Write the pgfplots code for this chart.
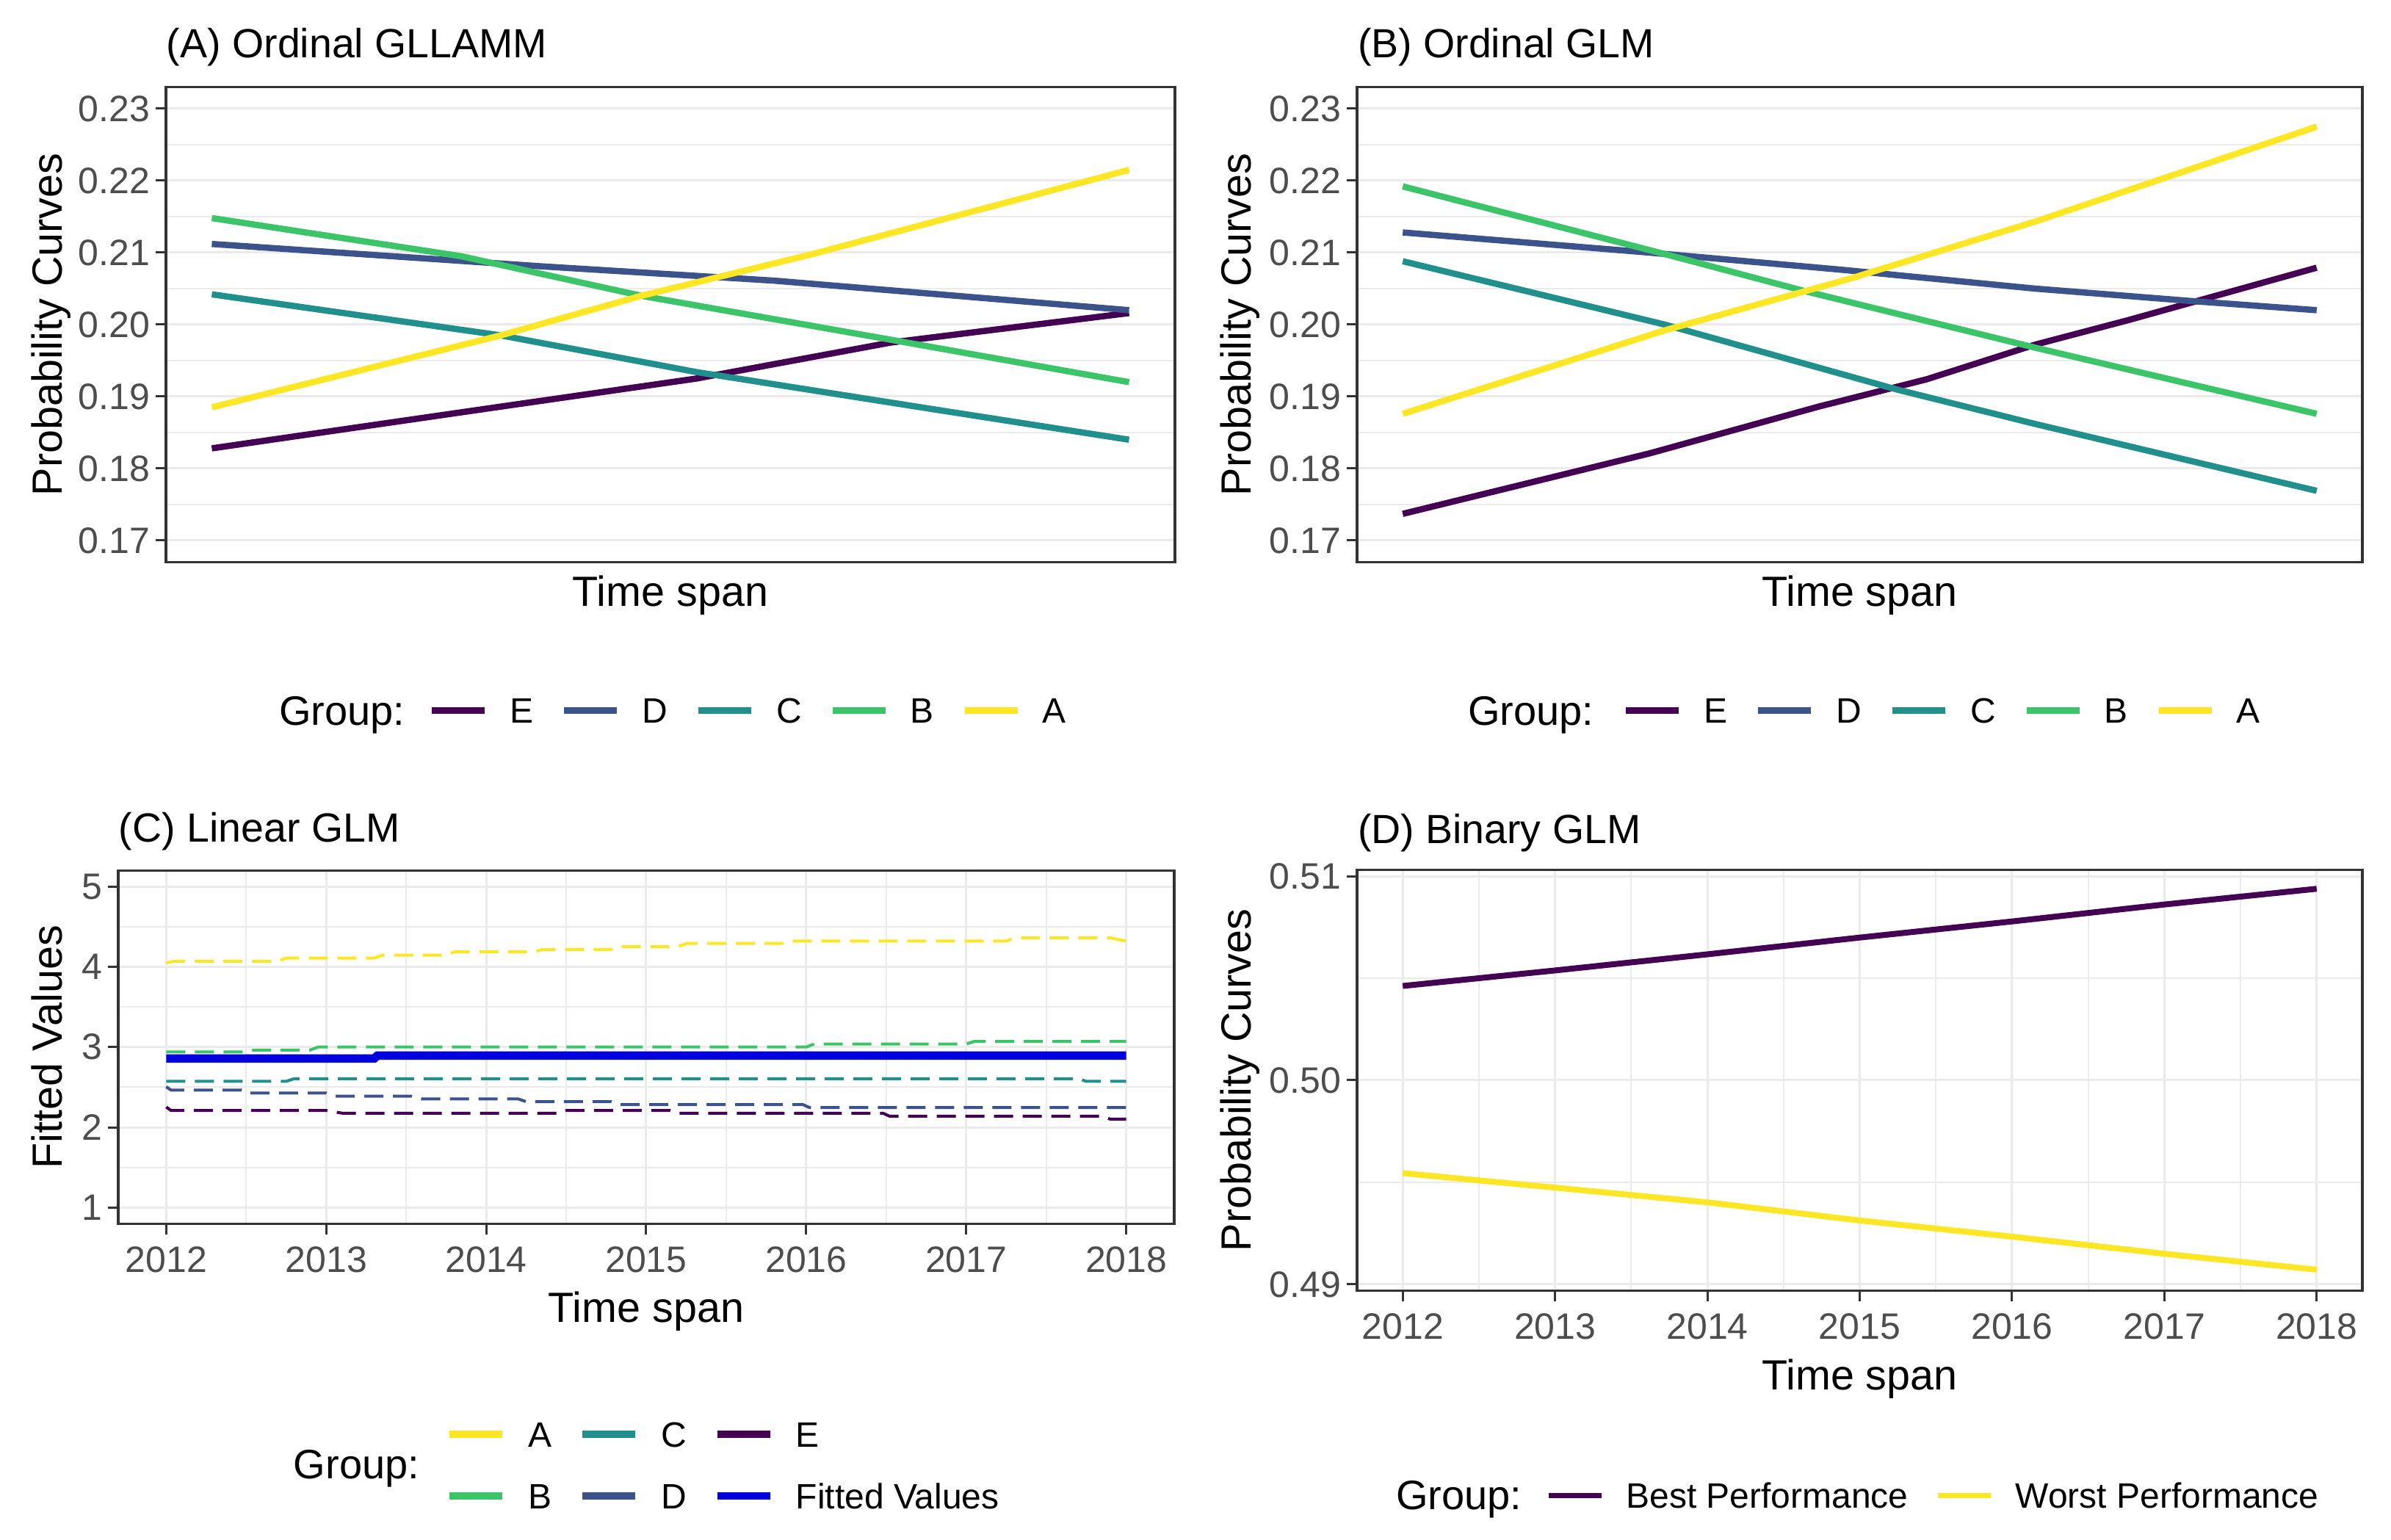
\documentclass[border=0pt]{standalone}
\usepackage{fontspec}
\setmainfont{Liberation Sans}
\usepackage{pgfplots}
\pgfplotsset{compat=1.18}

\definecolor{gray20}{HTML}{333333}
\definecolor{gray30}{HTML}{4D4D4D}
\definecolor{gray92}{HTML}{EBEBEB}
\definecolor{vE}{HTML}{440154}
\definecolor{vD}{HTML}{3B528B}
\definecolor{vC}{HTML}{21908C}
\definecolor{vB}{HTML}{3CC468}
\definecolor{vA}{HTML}{FDE725}
\definecolor{fitblue}{HTML}{0000DC}

\tikzset{grouptitle/.style={anchor=base west, inner sep=0pt, font=\fontsize{11.2}{13}\selectfont}}

\pgfplotsset{
  gg/.style={
    scale only axis, clip=false, anchor=south west,
    xmin=2011.7, xmax=2018.3,
    axis line style={gray20, line width=0.65pt},
    tick style={gray20, line width=0.6pt},
    major tick length=2.9pt, minor tick length=0pt,
    tick align=outside, tick pos=left,
    grid=both,
    major grid style={gray92, line width=0.6pt},
    minor grid style={gray92, line width=0.4pt},
    tick label style={font=\fontsize{10}{11}\selectfont, text=gray30, inner sep=0pt},
    yticklabel style={anchor=east},
    xticklabel style={anchor=base},
    yticklabel shift=1.3pt, xticklabel shift=10.3pt,
    every axis title shift=0pt,
    title style={anchor=base west, inner sep=0pt, yshift=0pt, font=\fontsize{11.1}{12}\selectfont},
    label style={inner sep=0pt, font=\fontsize{11.5}{13}\selectfont},
    xlabel style={anchor=base},
    ylabel style={anchor=base},
    legend cell align=left,
    legend style={draw=none, fill=none, inner sep=0pt, outer sep=0pt, anchor=west,
      font=\fontsize{9.6}{11}\selectfont,
      nodes={inner sep=0pt, text height=6.9pt, text depth=0pt},
      /tikz/every odd column/.append style={column sep=6.0pt},
      /tikz/every even column/.append style={column sep=7.5pt}},
    legend image code/.code={\draw[#1] (0pt,0pt) -- (14.4pt,0pt);},
  },
  ordinal/.style={
    gg, width=274pt, height=129.36pt,
    ymin=0.167, ymax=0.233, xtick=\empty,
    ytick={0.17,0.18,0.19,0.20,0.21,0.22,0.23},
    yticklabels={0.17,0.18,0.19,0.20,0.21,0.22,0.23},
    minor ytick={0.175,0.185,0.195,0.205,0.215,0.225},
    xlabel={Time span}, ylabel={Probability Curves},
    xlabel style={at={(axis description cs:0.5,-0.0935)}},
    legend columns=-1,
  },
  years/.style={
    xtick={2012,2013,2014,2015,2016,2017,2018},
    xticklabels={2012,2013,2014,2015,2016,2017,2018},
    minor xtick={2012.5,2013.5,2014.5,2015.5,2016.5,2017.5},
  },
}

\begin{document}
\begin{tikzpicture}
\useasboundingbox (0pt,0pt) rectangle (651.2pt,419.4pt);

% (A) Ordinal GLLAMM
\begin{axis}[ordinal, at={(45.2pt,266.32pt)}, width=274.8pt,
  title={(A) Ordinal GLLAMM}, title style={at={(axis description cs:0,1.0612)}},
  ylabel style={at={(axis description cs:-0.1033,0.5)}},
  legend style={at={(axis description cs:0.2606,-0.3126)}}]
\addplot[vE, line width=1.7pt] coordinates {(2012,0.1828) (2013.89,0.1886) (2015.17,0.1925) (2016.44,0.1975) (2018,0.2016)};
\addlegendentry{E}
\addplot[vD, line width=1.7pt] coordinates {(2012,0.2112) (2014.15,0.2081) (2015.68,0.2061) (2018,0.2020)};
\addlegendentry{D}
\addplot[vC, line width=1.7pt] coordinates {(2012,0.2042) (2013.89,0.1985) (2015.17,0.1934) (2016.70,0.1883) (2018,0.1840)};
\addlegendentry{C}
\addplot[vB, line width=1.7pt] coordinates {(2012,0.2148) (2013.63,0.2095) (2014.81,0.2040) (2016.44,0.1979) (2018,0.1920)};
\addlegendentry{B}
\addplot[vA, line width=1.7pt] coordinates {(2012,0.1885) (2013.89,0.1985) (2014.81,0.2040) (2015.93,0.2098) (2018,0.2215)};
\addlegendentry{A}
\node[grouptitle] at (axis description cs:0.1114,-0.3437) {Group:};
\end{axis}

% (B) Ordinal GLM
\begin{axis}[ordinal, at={(369.6pt,266.32pt)}, width=273.8pt,
  title={(B) Ordinal GLM}, title style={at={(axis description cs:0,1.0612)}},
  ylabel style={at={(axis description cs:-0.1056,0.5)}},
  legend style={at={(axis description cs:0.2644,-0.3126)}}]
\addplot[vE, line width=1.7pt] coordinates {(2012,0.1737) (2013.62,0.1821) (2014.73,0.1886) (2015.44,0.1924) (2016.15,0.1972) (2016.76,0.2006) (2018,0.2079)};
\addlegendentry{E}
\addplot[vD, line width=1.7pt] coordinates {(2012,0.2128) (2013.62,0.2100) (2014.89,0.2076) (2016.15,0.2050) (2017.16,0.2033) (2018,0.2020)};
\addlegendentry{D}
\addplot[vC, line width=1.7pt] coordinates {(2012,0.2088) (2013.72,0.2000) (2015.24,0.1910) (2016.15,0.1862) (2018,0.1769)};
\addlegendentry{C}
\addplot[vB, line width=1.7pt] coordinates {(2012,0.2192) (2013.72,0.2098) (2014.63,0.2047) (2016.15,0.1968) (2018,0.1876)};
\addlegendentry{B}
\addplot[vA, line width=1.7pt] coordinates {(2012,0.1876) (2013.72,0.1992) (2014.94,0.2064) (2016.15,0.2143) (2018,0.2275)};
\addlegendentry{A}
\node[grouptitle] at (axis description cs:0.1096,-0.3437) {Group:};
\end{axis}

% (C) Linear GLM
\begin{axis}[gg, years, at={(32.2pt,86.16pt)}, width=287.6pt, height=96.18pt,
  ymin=0.8, ymax=5.2, ytick={1,2,3,4,5}, yticklabels={1,2,3,4,5},
  minor ytick={1.5,2.5,3.5,4.5},
  title={(C) Linear GLM}, title style={at={(axis description cs:0,1.080)}},
  xlabel={Time span}, xlabel style={at={(axis description cs:0.5,-0.2802)}},
  ylabel={Fitted Values}, ylabel style={at={(axis description cs:-0.0529,0.5)}},
  legend columns=3,
  legend style={at={(axis description cs:0.3106,-0.684)}, row sep=9.9pt},
  legend image code/.code={\draw[#1, solid] (0pt,0pt) -- (14.4pt,0pt);},
  gdash/.style={line width=0.8pt, dash pattern=on 5.2pt off 2.6pt}]
\addplot[vA, gdash, forget plot] coordinates {(2012,4.047) (2012.05,4.07) (2012.7,4.07) (2012.75,4.108) (2013.3,4.108) (2013.35,4.145) (2013.75,4.145) (2013.8,4.185) (2014.3,4.185) (2014.35,4.215) (2014.78,4.215) (2014.83,4.252) (2015.2,4.252) (2015.25,4.29) (2015.85,4.29) (2015.9,4.32) (2017.25,4.32) (2017.3,4.36) (2017.9,4.36) (2018,4.32)};
\addplot[vB, gdash, forget plot] coordinates {(2012,2.94) (2012.5,2.94) (2012.55,2.963) (2012.9,2.963) (2012.95,3.0) (2016.0,3.0) (2016.05,3.037) (2017.0,3.037) (2017.05,3.07) (2018,3.07)};
\addplot[vC, gdash, forget plot] coordinates {(2012,2.573) (2012.75,2.573) (2012.8,2.606) (2017.7,2.606) (2017.75,2.573) (2018,2.573)};
\addplot[vD, gdash, forget plot] coordinates {(2012,2.505) (2012.03,2.463) (2012.47,2.463) (2012.5,2.426) (2013.0,2.426) (2013.05,2.389) (2013.53,2.389) (2013.6,2.353) (2014.2,2.353) (2014.25,2.319) (2014.78,2.319) (2014.83,2.282) (2015.98,2.282) (2016.02,2.246) (2018,2.246)};
\addplot[vE, gdash, forget plot] coordinates {(2012,2.252) (2012.03,2.209) (2013.0,2.209) (2013.1,2.176) (2014.45,2.176) (2014.5,2.209) (2015.15,2.209) (2015.2,2.176) (2016.48,2.176) (2016.52,2.139) (2017.85,2.139) (2017.9,2.102) (2018,2.102)};
\addplot[fitblue, line width=2.3pt, forget plot] coordinates {(2012,2.857) (2013.3,2.857) (2013.32,2.893) (2018,2.893)};
\addlegendimage{vA, line width=1.9pt}\addlegendentry{A}
\addlegendimage{vC, line width=1.9pt}\addlegendentry{C}
\addlegendimage{vE, line width=1.9pt}\addlegendentry{E}
\addlegendimage{vB, line width=1.9pt}\addlegendentry{B}
\addlegendimage{vD, line width=1.9pt}\addlegendentry{D}
\addlegendimage{fitblue, line width=1.9pt}\addlegendentry{Fitted Values}
\node[grouptitle] at (axis description cs:0.1654,-0.7216) {Group:};
\end{axis}

% (D) Binary GLM
\begin{axis}[gg, years, at={(369.6pt,67.94pt)}, width=273.8pt, height=114.52pt,
  ymin=0.4897, ymax=0.5103, ytick={0.49,0.50,0.51}, yticklabels={0.49,0.50,0.51},
  minor ytick={0.495,0.505},
  title={(D) Binary GLM}, title style={at={(axis description cs:0,1.0627)}},
  xlabel={Time span}, xlabel style={at={(axis description cs:0.5,-0.2365)}},
  ylabel={Probability Curves}, ylabel style={at={(axis description cs:-0.1056,0.5)}},
  legend columns=-1,
  legend style={at={(axis description cs:0.1885,-0.4876)}},
  legend image code/.code={\draw[#1, line width=1.3pt] (0pt,0pt) -- (14.4pt,0pt);}]
\addplot[vE, line width=1.6pt] coordinates {(2012,0.50462) (2013,0.50538) (2014,0.50617) (2015,0.50699) (2016,0.50778) (2017,0.50861) (2018,0.50938)};
\addlegendentry{Best Performance}
\addplot[vA, line width=1.6pt] coordinates {(2012,0.49545) (2013,0.49474) (2014,0.49402) (2015,0.49313) (2016,0.49234) (2017,0.49150) (2018,0.49072)};
\addlegendentry{Worst Performance}
\node[grouptitle] at (axis description cs:0.038,-0.5208) {Group:};
\end{axis}
\end{tikzpicture}
\end{document}
